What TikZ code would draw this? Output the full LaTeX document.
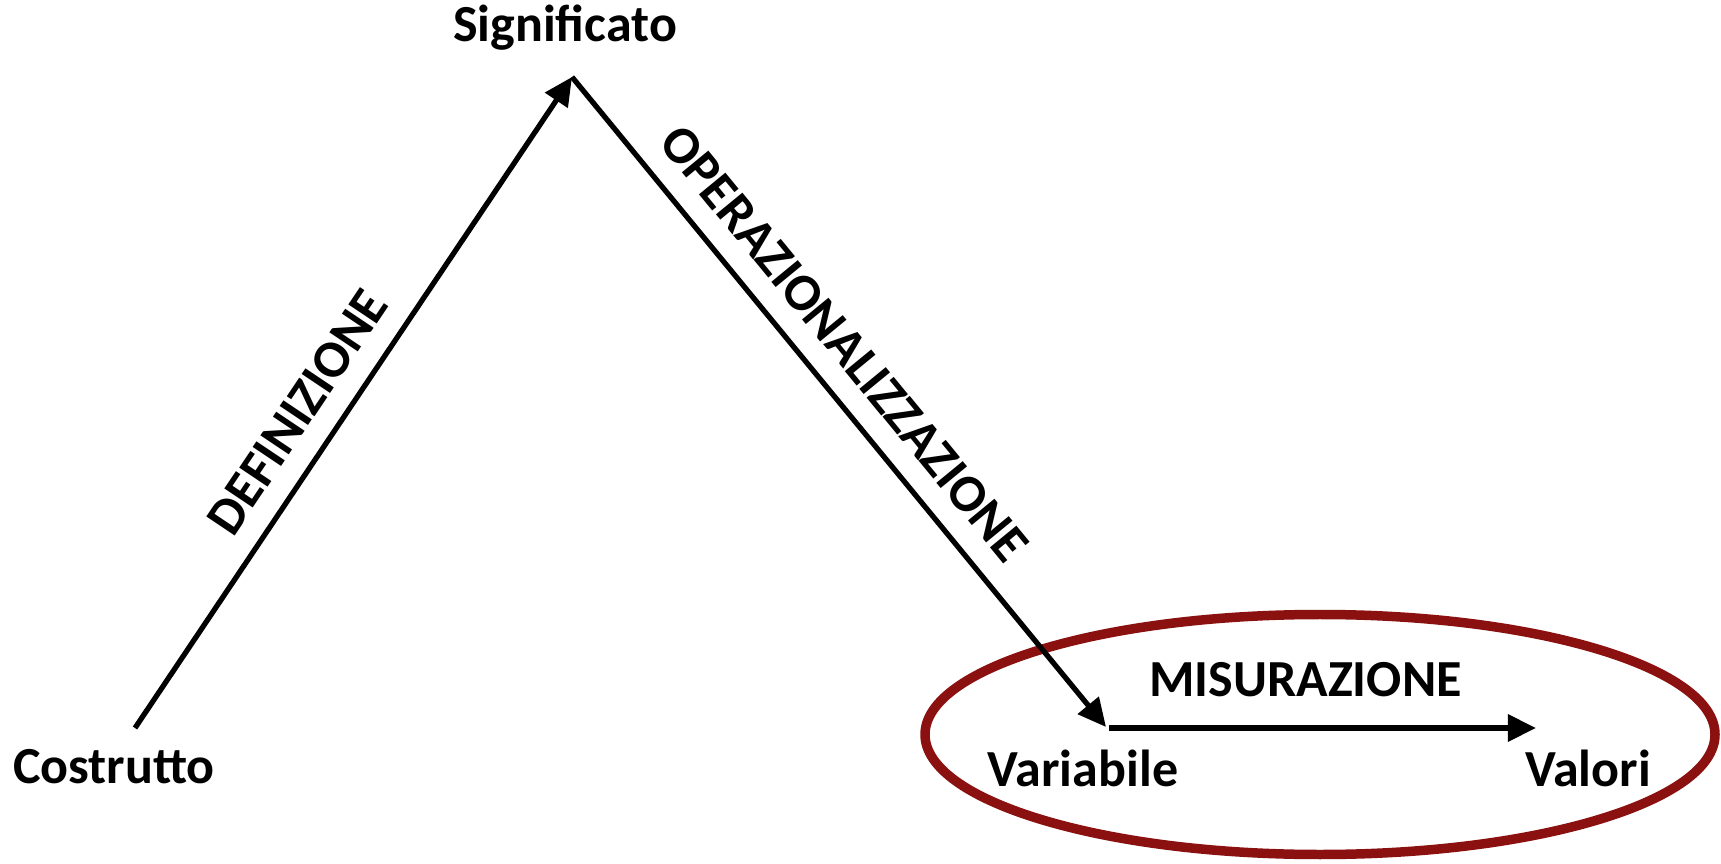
\documentclass[tikz,border=0pt]{standalone}
\usepackage{fontspec}
\setmainfont{Carlito}
\usetikzlibrary{arrows.meta,positioning}
\definecolor{darkred}{RGB}{139,17,17}
\tikzset{
    lbl/.style={font=\fontsize{14.8}{18}\selectfont\bfseries, inner sep=0pt},
    steplbl/.style={font=\fontsize{15}{18}\selectfont\bfseries, inner sep=0pt, sloped, above=6pt},
    conn/.style={black, line width=1.5pt, -{Triangle[length=8pt, width=7.5pt]}}
}
\begin{document}
\begin{tikzpicture}[x=0.01cm, y=-0.01cm]
    \useasboundingbox (0,0) rectangle (1721,864);
    \coordinate (cpt) at (135,728);
    \coordinate (spt) at (572,77);
    \coordinate (vpt) at (1106,727);
    \coordinate (vstart) at (1109,728);
    \coordinate (rpt) at (1536,728);
    %
    \node[lbl] (costrutto) at (114,767) {Costrutto};
    \node[lbl] (significato) at (565,28) {Significato};
    \node[lbl] (variabile) at (1083,768) {Variabile};
    \node[lbl] (valori) at (1588,768) {Valori};
    %
    \draw[darkred, line width=2.7pt] (1320,734.5) ellipse (395 and 120);
    %
    \draw[conn] (cpt) -- node[steplbl, pos=0.45] (definizione) {DEFINIZIONE} (spt);
    \draw[conn] (spt) -- node[steplbl, pos=0.45] (operaz) {OPERAZIONALIZZAZIONE} (vpt);
    \draw[conn] (vstart) -- node[lbl, above=8pt, pos=0.46] (misurazione) {MISURAZIONE} (rpt);
\end{tikzpicture}
\end{document}
